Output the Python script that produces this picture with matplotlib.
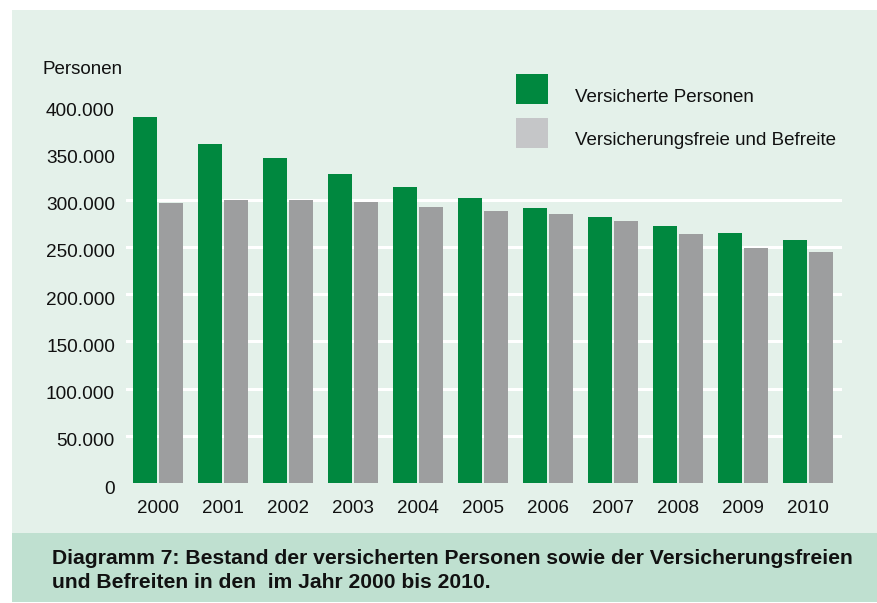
import matplotlib
matplotlib.use('Agg')
import matplotlib.pyplot as plt
import matplotlib.transforms as mtransforms
from matplotlib.patches import Rectangle
import numpy as np

plt.rcParams['font.family'] = ['Liberation Sans', 'DejaVu Sans']

years = ['2000', '2001', '2002', '2003', '2004', '2005',
         '2006', '2007', '2008', '2009', '2010']
versicherte = [388000, 359000, 344000, 327000, 314000, 302000,
               291000, 282000, 272000, 265000, 257000]
befreite = [297000, 300000, 300000, 298000, 292000, 288000,
            285000, 277500, 264000, 249000, 245000]
y_ticks = [0, 50000, 100000, 150000, 200000, 250000, 300000, 350000, 400000]
grid_levels = [50000, 100000, 150000, 200000, 250000, 300000]

green = '#00883f'
gray = '#9d9e9f'
legend_gray = '#c5c6c8'
bg = '#e4f1ea'
caption_bg = '#bfe0d0'

W, H = 877, 603
fig = plt.figure(figsize=(W / 100, H / 100), dpi=100)
fig.patch.set_facecolor('white')


def fx(px):
    return px / W


def fy(py):
    return 1 - py / H


# backgrounds
fig.patches.append(Rectangle((fx(12), fy(533)), fx(877 - 12), (533 - 10) / H,
                             transform=fig.transFigure, facecolor=bg,
                             edgecolor='none', zorder=-2))
fig.patches.append(Rectangle((fx(12), fy(602)), fx(877 - 12), (602 - 533) / H,
                             transform=fig.transFigure, facecolor=caption_bg,
                             edgecolor='none', zorder=-2))

ax = fig.add_axes([fx(126), fy(483), fx(842 - 126), (483 - 90) / H])
ax.set_zorder(1)
ax.set_facecolor('none')
x = np.arange(len(years))
ax.bar(x - 0.2, versicherte, width=0.37, color=green, zorder=3)
ax.bar(x + 0.2, befreite, width=0.37, color=gray, zorder=3)
for g in grid_levels:
    ax.axhline(g, color='white', linewidth=2.2, zorder=1)

ax.set_xlim(-0.492, 10.523)
ax.set_ylim(0, 416300)
ax.set_xticks(x)
ax.set_xticklabels(years, fontsize=13.5, color='#111111')
ax.set_yticks(y_ticks)
ax.set_yticklabels(['0'] + ['{:,}'.format(v).replace(',', '.') for v in y_ticks[1:]],
                   fontsize=13.7, color='#111111')
ax.tick_params(length=0)
ax.tick_params(axis='y', pad=8)
ax.tick_params(axis='x', pad=12)
# labels sit a little below their gridlines in the original
shift = mtransforms.ScaledTranslation(0, -4 / 100, fig.dpi_scale_trans)
for lab in ax.get_yticklabels():
    lab.set_transform(lab.get_transform() + shift)
for s in ax.spines.values():
    s.set_visible(False)

fig.text(fx(42), fy(70), 'Personen', fontsize=13.5, va='center', ha='left', color='#111111')

# legend
fig.patches.append(Rectangle((fx(516), fy(104)), fx(32), 30 / H,
                             transform=fig.transFigure, facecolor=green, edgecolor='none'))
fig.patches.append(Rectangle((fx(516), fy(148)), fx(32), 30 / H,
                             transform=fig.transFigure, facecolor=legend_gray, edgecolor='none'))
fig.text(fx(575), fy(98), 'Versicherte Personen', fontsize=13.5, va='center', ha='left', color='#111111')
fig.text(fx(575), fy(141), 'Versicherungsfreie und Befreite', fontsize=13.5, va='center', ha='left', color='#111111')

# caption
fig.text(fx(52), fy(558), 'Diagramm 7: Bestand der versicherten Personen sowie der Versicherungsfreien',
         fontsize=15.2, fontweight='bold', va='center', ha='left', color='#111111')
fig.text(fx(52), fy(583), 'und Befreiten in den  im Jahr 2000 bis 2010.',
         fontsize=15.2, fontweight='bold', va='center', ha='left', color='#111111')

fig.savefig('out.png', dpi=100)
